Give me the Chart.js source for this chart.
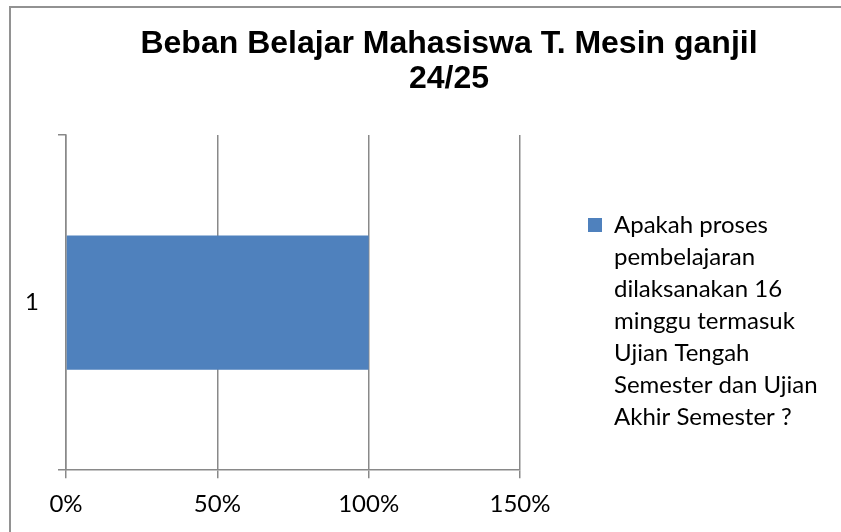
<!DOCTYPE html>
<html>
<head>
<meta charset="utf-8">
<script src="https://cdn.jsdelivr.net/npm/chart.js@4.4.1/dist/chart.umd.min.js"></script>
<style>
  html, body { margin: 0; padding: 0; background: #fff; overflow: hidden; }
  #frame { position: absolute; left: 9px; top: 6px; width: 900px; height: 560px; border: 2px solid #929292; }
  #wrap { position: absolute; left: 10px; top: 7px; width: 878px; height: 540px; }
</style>
</head>
<body>
<div id="frame"></div>
<div id="wrap"><canvas id="chart"></canvas></div>
<script>
// --- data ---
const titleLines = ['Beban Belajar Mahasiswa T. Mesin ganjil', '24/25'];
const categories = ['1'];
const seriesLabel = ['Apakah proses', 'pembelajaran', 'dilaksanakan 16', 'minggu termasuk', 'Ujian Tengah', 'Semester dan Ujian', 'Akhir Semester ?'];
const seriesValues = [100];
const xTicks = [0, 50, 100, 150];

const gridGray = '#898989';
const LEGEND_W = 368;

// legend keeps a fixed width so the plot area ends where the reference does
const legendWidth = {
  id: 'legendWidth',
  beforeLayout(chart) {
    const lg = chart.legend;
    if (lg && !lg.fixedFit) {
      const fit = lg.fit;
      lg.fit = function () { fit.call(this); this.width = LEGEND_W; };
      lg.fixedFit = true;
    }
  }
};

new Chart(document.getElementById('chart'), {
  type: 'bar',
  data: {
    labels: categories,
    datasets: [{
      label: seriesLabel,
      data: seriesValues,
      backgroundColor: '#4F81BD',
      borderWidth: 0,
      barPercentage: 0.5,
      categoryPercentage: 0.8
    }]
  },
  options: {
    indexAxis: 'y',
    responsive: true,
    maintainAspectRatio: false,
    animation: false,
    layout: { padding: { top: 0, right: 0, bottom: 16, left: 0 } },
    plugins: {
      tooltip: { enabled: false },
      title: {
        display: true,
        text: titleLines,
        color: '#000',
        font: { family: '"Liberation Sans", Arial, sans-serif', size: 32, weight: 'bold', lineHeight: '35.5px' },
        padding: { top: 19, bottom: 38 }
      },
      legend: {
        position: 'right',
        align: 'start',
        fullSize: false,
        title: { display: true, text: '', font: { size: 1, lineHeight: 1 }, padding: { top: 9, bottom: 0 } },
        labels: {
          color: '#000',
          boxWidth: 14,
          boxHeight: 14,
          padding: 68,
          font: { family: 'Lato, sans-serif', size: 24, lineHeight: '32px' }
        }
      }
    },
    scales: {
      x: {
        min: xTicks[0],
        max: xTicks[xTicks.length - 1],
        ticks: {
          stepSize: xTicks[1] - xTicks[0],
          color: '#000',
          padding: 12,
          font: { family: 'Lato, sans-serif', size: 24 },
          callback: v => v + '%'
        },
        grid: { color: gridGray, lineWidth: 1.5, tickLength: 8 },
        border: { color: gridGray, width: 1.5 }
      },
      y: {
        ticks: { color: '#000', padding: 19, font: { family: 'Lato, sans-serif', size: 24 } },
        grid: { drawOnChartArea: false, color: gridGray, lineWidth: 1.5, tickLength: 8 },
        border: { color: gridGray, width: 1.5 },
        afterFit: s => { s.width = 56; }
      }
    }
  },
  plugins: [legendWidth]
});
</script>
</body>
</html>
